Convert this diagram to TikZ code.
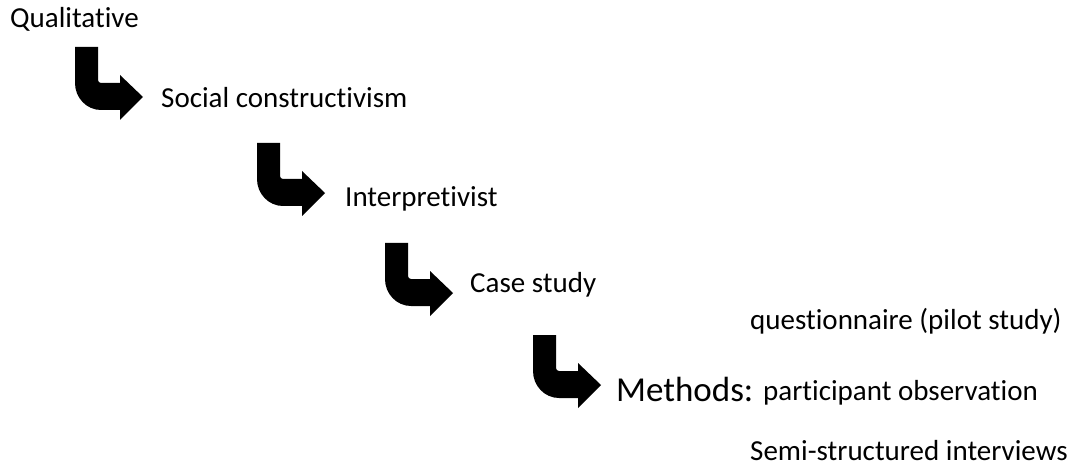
\documentclass[tikz,border=0pt]{standalone}
\usepackage{fontspec}
\setmainfont{Carlito}[RawFeature={-liga}]
\begin{document}
\begin{tikzpicture}[x=1pt,y=-1pt,
  label/.style={anchor=base west,inner sep=0pt,font=\fontsize{29}{34}\selectfont},
  biglabel/.style={anchor=base west,inner sep=0pt,font=\fontsize{35}{40}\selectfont},
  bentarrow/.pic={
    \fill[black] (0,0) -- (0,36)
      arc[start angle=180,end angle=270,x radius=26,y radius=-27]
      -- (45,63) -- (45,73) -- (68,50) -- (45,28) -- (45,36)
      -- (26,36) arc[start angle=270,end angle=180,x radius=3,y radius=-3]
      -- (23,0) -- cycle;
  }]
  \useasboundingbox (0,0) rectangle (1075,470);

  % stage labels
  \node[label] (qual) at (10,28) {Qualitative};
  \node[label] (soc) at (161,108) {Social constructivism};
  \node[label] (interp) at (345,207) {Interpretivist};
  \node[label] (case) at (470,292) {Case study};
  \node[biglabel] (meth) at (616,401) {Methods:};

  % list of methods
  \node[label] (quest) at (750,329) {questionnaire (pilot study)};
  \node[label] (part) at (763,400) {participant observation};
  \node[label] (semi) at (750,460) {Semi-structured interviews};

  % bent arrows leading from one stage to the next
  \coordinate (a1) at (75,47);
  \coordinate (a2) at (257,143);
  \coordinate (a3) at (385,243);
  \coordinate (a4) at (533,335);
  \pic at (a1) {bentarrow};
  \pic at (a2) {bentarrow};
  \pic at (a3) {bentarrow};
  \pic at (a4) {bentarrow};
\end{tikzpicture}
\end{document}
